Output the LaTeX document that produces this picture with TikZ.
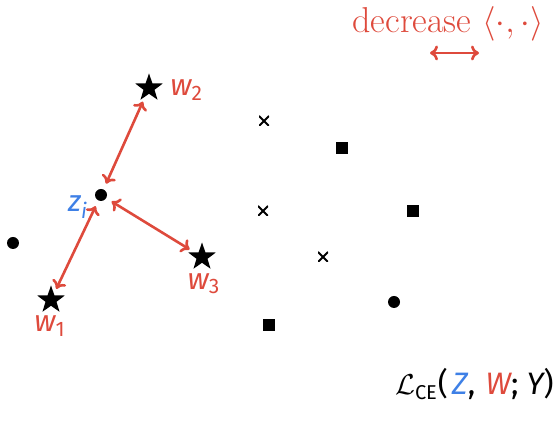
\documentclass[tikz,border=0pt]{standalone}
\usepackage{fontspec}
\usetikzlibrary{arrows.meta,shapes.geometric}
\newfontfamily\labfont{Fira Sans}
\definecolor{myred}{HTML}{DE4A3C}
\definecolor{myblue}{HTML}{3E80E6}
\newcommand{\lw}[1]{{\labfont\itshape #1}}
\begin{document}
\begin{tikzpicture}[x=0.5pt,y=-0.5pt,
  dot/.style={circle,fill=black,inner sep=0pt,minimum size=6pt},
  starpt/.style={star,star points=5,star point ratio=2.5,fill=black,inner sep=0pt,minimum size=14.5pt},
  sq/.style={rectangle,fill=black,inner sep=0pt,minimum size=6.2pt},
  crs/.style={inner sep=0pt,minimum size=5pt,path picture={\draw[line width=0.9pt]
     (path picture bounding box.south west)--(path picture bounding box.north east)
     (path picture bounding box.north west)--(path picture bounding box.south east);}},
  tips/.style={{To[length=4pt,width=7.5pt]}-{To[length=4pt,width=7.5pt]}},
  dbl/.style={myred,line width=1.3pt,tips,shorten <=3pt,shorten >=2.5pt},
  lab/.style={inner sep=0pt,font=\fontsize{15}{18}\selectfont}]
\useasboundingbox (0,0) rectangle (557,421);
% points
\node[dot] (zi) at (101,195) {};
\node[dot] (p1) at (13,243) {};
\node[dot] (p2) at (394,302) {};
\node[starpt] (w2) at (149,88) {};
\node[starpt] (w1) at (51,300) {};
\node[starpt] (w3) at (202,257) {};
\node[crs] (c1) at (264,121) {};
\node[crs] (c2) at (263,211) {};
\node[crs] (c3) at (323,257) {};
\node[sq] (s1) at (342,148) {};
\node[sq] (s2) at (413,211) {};
\node[sq] (s3) at (269,325) {};
% labels
\node[lab,text=myred,anchor=west] (lw2) at (170,90) {\lw{w}\textsubscript{\labfont 2}};
\node[lab,text=myred] (lw1) at (50,326) {\lw{w}\textsubscript{\labfont 1}};
\node[lab,text=myred] (lw3) at (204,284) {\lw{w}\textsubscript{\labfont 3}};
\node[lab,text=myblue] (lzi) at (78,207) {\lw{z}\textsubscript{\lw{i}}};
% arrows
\draw[dbl] (zi) -- (w2);
\draw[dbl] (zi) -- (w1);
\draw[dbl] (zi) -- (w3);
% legend
\node[inner sep=0pt,text=myred,anchor=base west,font=\fontsize{18}{21}\selectfont] (dec) at (352,33) {decrease $\langle\cdot,\cdot\rangle$};
\coordinate (a1) at (430,53);
\coordinate (a2) at (479,53);
\draw[myred,line width=1.3pt,tips] (a1) -- (a2);
\node[inner sep=0pt,anchor=base east,font=\fontsize{15.5}{18}\selectfont] (loss) at (554,395)
  {$\mathcal{L}_{\hbox{\labfont\fontsize{10}{12}\selectfont CE}}$\labfont(\kern2pt\lw{\textcolor{myblue}{Z}},\kern1pt\ \lw{\textcolor{myred}{W}}; \lw{Y})};
\end{tikzpicture}
\end{document}
